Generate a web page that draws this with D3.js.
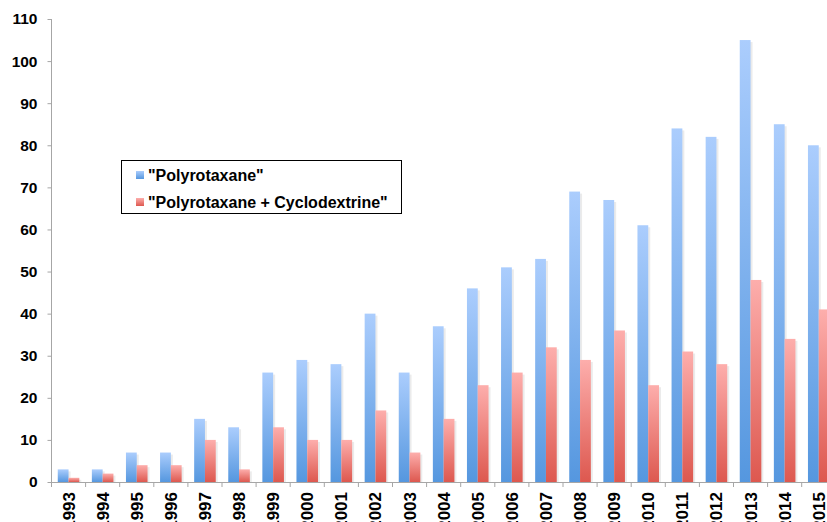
<!DOCTYPE html>
<html>
<head>
<meta charset="utf-8">
<script src="https://cdn.jsdelivr.net/npm/d3@7"></script>
<style>
body{margin:0;background:#fff;}
svg{display:block;font-family:"Liberation Sans",Arial,sans-serif;}
.axis text{font-weight:bold;font-size:15.5px;fill:#000;}
.axis path,.axis line{stroke:#a6a6a6;}
.legend text{font-weight:bold;font-size:16px;}
</style>
</head>
<body>
<svg id="chart" width="827" height="522"></svg>
<script>
var years = ["1993","1994","1995","1996","1997","1998","1999","2000","2001","2002","2003","2004","2005","2006","2007","2008","2009","2010","2011","2012","2013","2014","2015"]
var polyrotaxane = [3,3,7,7,15,13,26,29,28,40,26,37,46,51,53,69,67,61,84,82,105,85,80]
var withCyclodextrine = [1,2,4,4,10,3,13,10,10,17,7,15,23,26,32,29,36,23,31,28,48,34,41]
var seriesNames = ["\"Polyrotaxane\"", "\"Polyrotaxane + Cyclodextrine\""]
var yTicks = [0,10,20,30,40,50,60,70,80,90,100,110]

var svg = d3.select("#chart")
var plotLeft = 51.5, plotBottom = 482, plotTop = 19
var step = 34.1

var xScale = d3.scaleBand()
    .domain(years)
    .range([plotLeft, plotLeft + step*years.length])
    .padding(0)

var xInner = d3.scaleBand()
    .domain([0,1])
    .range([0, xScale.bandwidth()])
    .paddingInner(0)
    .paddingOuter(0.58)

var yScale = d3.scaleLinear()
    .domain([0,110])
    .range([plotBottom, plotTop])

// gradients
var defs = svg.append("defs")
var grads = [
    {id:"gBlue", top:"#abcdfd", bot:"#5597df"},
    {id:"gRed", top:"#fdaeac", bot:"#dd584f"}
]
grads.forEach(function(g){
    var lg = defs.append("linearGradient")
        .attr("id", g.id)
        .attr("x1",0).attr("y1",0).attr("x2",0).attr("y2",1)
    lg.append("stop").attr("offset","0%").attr("stop-color", g.top)
    lg.append("stop").attr("offset","100%").attr("stop-color", g.bot)
})

// y axis
svg.append("g")
    .attr("class","y axis")
    .attr("transform","translate(" + plotLeft + ",0)")
    .call(d3.axisLeft(yScale)
        .tickValues(yTicks)
        .tickSize(4)
        .tickPadding(10))
    .call(function(g){ g.select(".domain").attr("d","M0," + plotTop + "V" + plotBottom) })

var datasets = [polyrotaxane, withCyclodextrine]
var fills = ["url(#gBlue)","url(#gRed)"]

datasets.forEach(function(data, s){
    var g = svg.append("g").attr("class","series"+s)
    // soft shadow
    g.selectAll(".shadow")
        .data(data)
        .enter().append("rect")
        .attr("x", function(d,i){ return xScale(years[i]) + xInner(s) + 2 })
        .attr("y", function(d){ return yScale(d) + 2 })
        .attr("width", xInner.bandwidth())
        .attr("height", function(d){ return plotBottom - yScale(d) - 2 })
        .attr("fill","#000")
        .attr("opacity",0.08)
    g.selectAll(".bar")
        .data(data)
        .enter().append("rect")
        .attr("class","bar")
        .attr("x", function(d,i){ return xScale(years[i]) + xInner(s) })
        .attr("y", function(d){ return yScale(d) })
        .attr("width", xInner.bandwidth())
        .attr("height", function(d){ return plotBottom - yScale(d) })
        .attr("fill", fills[s])
})

// x axis
var xAxis = svg.append("g")
    .attr("class","x axis")
    .attr("transform","translate(0," + plotBottom + ")")
    .call(d3.axisBottom(xScale).tickSize(0).tickSizeOuter(0).tickPadding(0))
xAxis.selectAll(".tick text")
    .attr("transform","rotate(-90)")
    .attr("x", -10)
    .attr("y", 0)
    .attr("dy","0.35em")
    .attr("text-anchor","end")
    .style("font-size","17px")
xAxis.selectAll(".sep")
    .data(years.concat(["end"]))
    .enter().append("line")
    .attr("x1", function(d,i){ return plotLeft + step*i })
    .attr("x2", function(d,i){ return plotLeft + step*i })
    .attr("y1", 0).attr("y2", 5)
    .attr("stroke","#a6a6a6")

// legend
var legend = svg.append("g").attr("class","legend")
legend.append("rect")
    .attr("x",121.5).attr("y",160.5)
    .attr("width",280).attr("height",53)
    .attr("fill","#fff").attr("stroke","#000").attr("stroke-width",1)
seriesNames.forEach(function(name, i){
    var y = 175 + i*27
    legend.append("rect")
        .attr("x",136).attr("y", y - 4)
        .attr("width",8).attr("height",8)
        .attr("fill", fills[i])
    legend.append("text")
        .attr("x",148).attr("y", y + 6)
        .text(name)
})
</script>
</body>
</html>
